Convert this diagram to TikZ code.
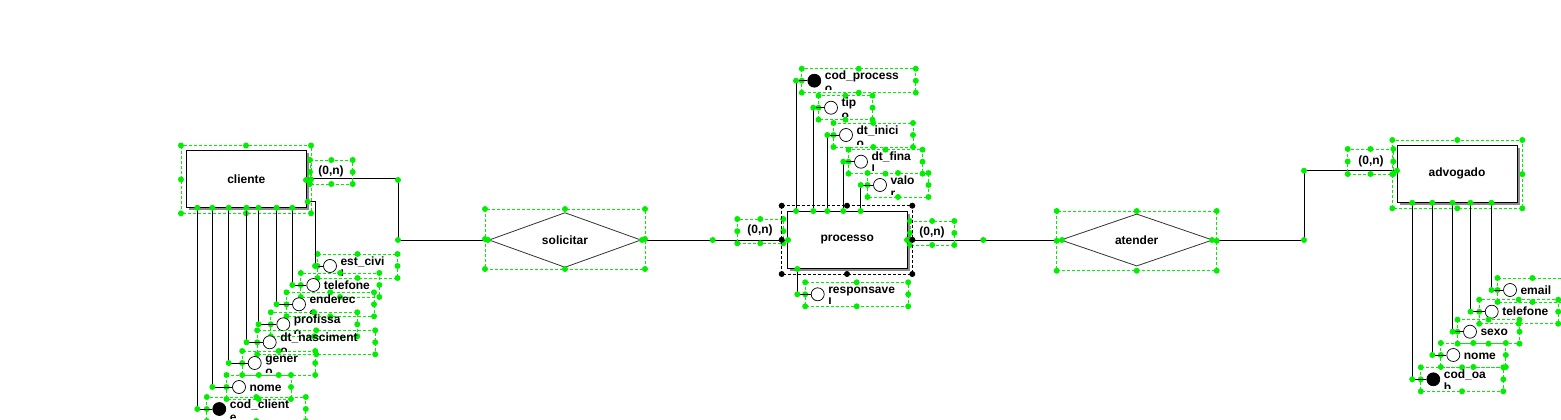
\documentclass[tikz,border=0pt]{standalone}
\usepackage{fontspec}
\setmainfont{Liberation Sans}
\usepackage{tikz}
\usetikzlibrary{shapes.geometric,shadows}
\definecolor{selgreen}{HTML}{00EE00}
\definecolor{shade}{HTML}{8C8C8C}
\newcommand{\erfont}{\fontsize{12}{13}\selectfont\bfseries}
\tikzset{
  ent/.style={draw, fill=white, line width=0.9pt, minimum width=120pt,
    minimum height=57pt, inner sep=0pt, font=\erfont,
    drop shadow={shadow xshift=2.5pt, shadow yshift=-2.5pt, fill=shade, opacity=1}},
  rel/.style={diamond, draw=black!80, fill=white, line width=0.8pt, inner sep=0pt,
    minimum width=152pt, minimum height=50pt, font=\erfont},
  atr/.style={circle, draw, fill=white, line width=0.7pt, minimum size=13pt, inner sep=0pt},
  key/.style={atr, fill=black},
  lbl/.style={inner sep=0pt, font=\erfont},
  card/.style={inner sep=0pt, font=\erfont},
  sel/.style={dashed, dash pattern=on 3pt off 2pt, line width=0.7pt},
  hdl/.style={fill=selgreen},
  lnk/.style={line width=0.8pt}
}

\begin{document}
\begin{tikzpicture}[x=1pt,y=-1pt]
  \useasboundingbox (0,0) rectangle (1561,420);

  \newcommand\Hdl[5][selgreen]{%
    \draw[sel, draw=#1] ({#2},{#3}) rectangle ({#4},{#5});
    \foreach \u/\v in {0/0,0.5/0,1/0,0/0.5,1/0.5,0/1,0.5/1,1/1}
      \fill[#1] ({(#2)+\u*((#4)-(#2))},{(#3)+\v*((#5)-(#3))}) circle (3);
  }
  \newcommand\Attr[7]{% name, x, y, style, box width, line one, line two
    \Hdl{#2-12.5}{#3-12}{#2-12.5+#5}{#3+12}
    \node[#4] (#1) at (#2,#3) {};
    \if\relax\detokenize{#7}\relax
      \node[lbl, anchor=base west] (#1-t) at ([xshift=3.5pt, yshift=-4pt]#1.east) {#6};
    \else
      \node[lbl, anchor=base west] (#1-t) at ([xshift=3.5pt, yshift=1pt]#1.east) {#6};
      \begin{scope}
        \clip ({#2},{#3-14}) rectangle ({#2+#5},{#3+9});
        \node[lbl, anchor=base west] at ([yshift=-13pt]#1-t.base west) {#7};
      \end{scope}
    \fi
  }
  \newcommand\Link[3]{% attribute, x of the drop, entity side
    \draw[lnk] (#1.west) -| ({#2},0 |- #3);
    \fill[hdl] (#1.west -| {#2},0) circle (3);
    \fill[hdl] ({#2},0 |- #3) circle (3);
  }

  %% entities and relationships
  \node[ent] (cliente) at (246.3,178.8) {cliente};
  \node[ent] (processo) at (847.2,240) {processo};
  \node[ent] (advogado) at (1457,173.8) {advogado};
  \node[rel] (solicitar) at (565,240) {solicitar};
  \node[rel] (atender) at (1136.7,240) {atender};

  \coordinate (b1) at (398,240);
  \coordinate (b2) at (1304,170.7);

  \draw[lnk] (cliente.east) -| (b1) -- (solicitar.west); %% cliente -> solicitar
  \draw[lnk] (solicitar.east) -- (processo.west);
  \draw[lnk] (processo.east) -- (atender.west);
  \draw[lnk] (atender.east) -| (b2) -- (b2 -| advogado.west); %% atender -> advogado

  \foreach \p in {{306,180},{398,180},{398,240},{488,240},{642,240},{712.7,240},
    {788,240},{907,240},{983.3,240},{1062,240},{1212,240},{1304,240},{1304,170.7},{1397,170.7}}
    \fill[hdl] (\p) circle (3);

  %% cardinalities
  \Hdl{310}{160}{352.7}{184}
  \node[card] (cli-card) at (331,171) {(0,n)};
  \Hdl{737.3}{219}{783.3}{243.3}
  \node[card] (pro-card1) at (760,230.5) {(0,n)};
  \Hdl{910}{221}{954.3}{245}
  \node[card] (pro-card2) at (932,232) {(0,n)};
  \Hdl{1347.7}{149}{1393.3}{174}
  \node[card] (adv-card) at (1371,161.5) {(0,n)};

  %% selections
  \Hdl{181}{145.5}{311}{213.3}
  \Hdl[black]{781.7}{205.7}{912.3}{274}
  \Hdl{1392.3}{140}{1522.3}{208.3}
  \Hdl{485}{209}{645}{269}
  \Hdl{1056.7}{211}{1216.7}{270.7}

  %% cliente attributes
  \Attr{cli-est}{330}{266}{atr}{80}{est\_civi}{l}
  \draw[lnk] (cli-est.west) -| (315,201.7) -- (cliente.east |- 315,201.7);
  \fill[hdl] (315,266) circle (3);
  \fill[hdl] (307.7,201.7) circle (3);
  \Attr{cli-tel}{313.3}{285}{atr}{78.5}{telefone}{}
  \Link{cli-tel}{292.3}{cliente.south}
  \Attr{cli-end}{299}{304.3}{atr}{87.5}{enderec}{o}
  \Link{cli-end}{276.5}{cliente.south}
  \Attr{cli-pro}{283.3}{324.3}{atr}{86.5}{profissa}{o}
  \Link{cli-pro}{258.5}{cliente.south}
  \Attr{cli-dt}{269.7}{342.3}{atr}{118}{dt\_nasciment}{o}
  \Link{cli-dt}{246.5}{cliente.south}
  \Attr{cli-gen}{254.7}{363}{atr}{73}{gener}{o}
  \Link{cli-gen}{228.7}{cliente.south}
  \Attr{cli-nome}{239}{387}{atr}{64.5}{nome}{}
  \Link{cli-nome}{212.3}{cliente.south}
  \Attr{cli-cod}{219.3}{409}{key}{99}{cod\_client}{e}
  \Link{cli-cod}{197.3}{cliente.south}

  %% processo attributes
  \Attr{pro-cod}{814.3}{80.7}{key}{114}{cod\_process}{o}
  \Link{pro-cod}{796}{processo.north}
  \Attr{pro-tipo}{831}{107.7}{atr}{54}{tip}{o}
  \Link{pro-tipo}{813.3}{processo.north}
  \Attr{pro-ini}{846}{135}{atr}{79.5}{dt\_inici}{o}
  \Link{pro-ini}{827.3}{processo.north}
  \Attr{pro-fin}{861}{161.7}{atr}{74}{dt\_fina}{l}
  \Link{pro-fin}{843.3}{processo.north}
  \Attr{pro-val}{880}{185}{atr}{61}{valo}{r}
  \Link{pro-val}{860.7}{processo.north}
  \Attr{pro-resp}{817.7}{294.3}{atr}{103}{responsave}{l}
  \Link{pro-resp}{797.3}{processo.south}

  %% advogado attributes
  \Attr{adv-mail}{1510}{290}{atr}{70}{email}{}
  \Link{adv-mail}{1491.5}{advogado.south}
  \Attr{adv-tel}{1491.7}{311.7}{atr}{79}{telefone}{}
  \Link{adv-tel}{1470.5}{advogado.south}
  \Attr{adv-sexo}{1470}{331.7}{atr}{62}{sexo}{}
  \Link{adv-sexo}{1452.5}{advogado.south}
  \Attr{adv-nome}{1453.3}{355}{atr}{65}{nome}{}
  \Link{adv-nome}{1432.3}{advogado.south}
  \Attr{adv-oab}{1433.3}{379.3}{key}{82.5}{cod\_oa}{b}
  \Link{adv-oab}{1412.2}{advogado.south}

\end{tikzpicture}
\end{document}
